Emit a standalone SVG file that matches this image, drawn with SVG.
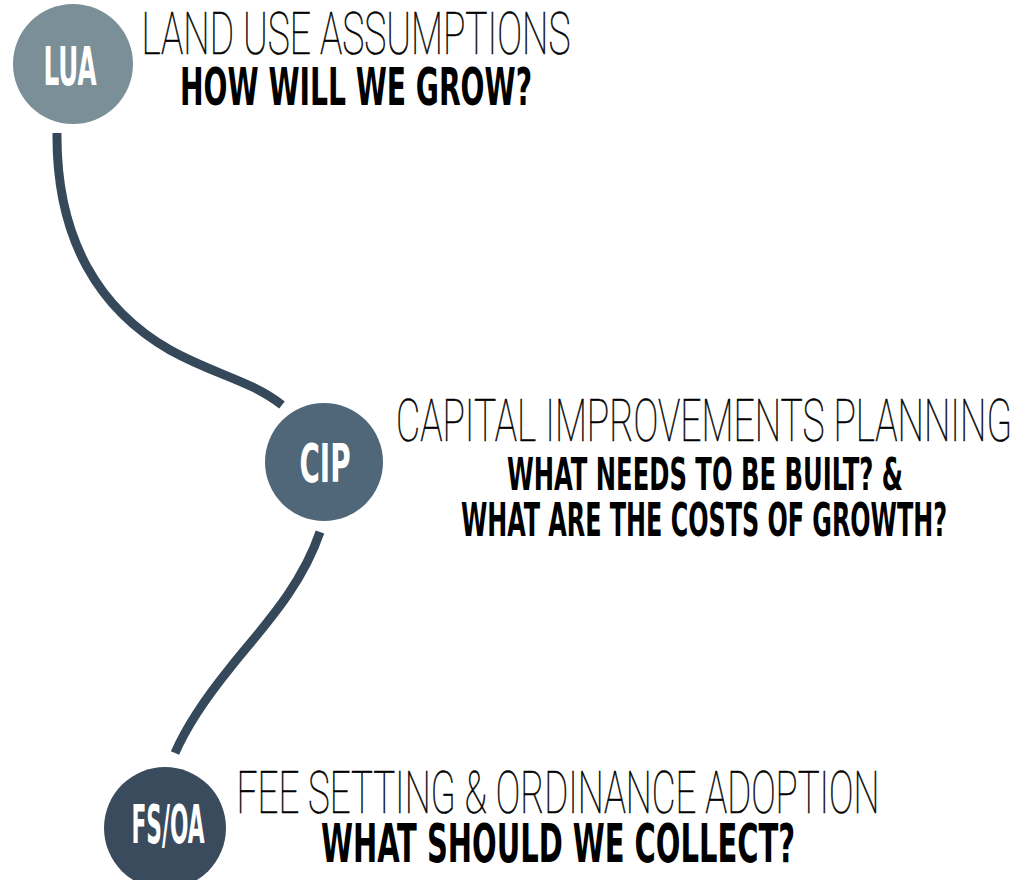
<svg xmlns="http://www.w3.org/2000/svg" width="1018" height="880" viewBox="0 0 1018 880">
<style>
.conn{fill:none;stroke:#36495a;stroke-width:9;stroke-linecap:butt}
.lbl{font-family:"DejaVu Sans Condensed","DejaVu Sans",sans-serif;font-weight:bold;fill:#ffffff;text-anchor:middle}
.title{font-family:Roboto,Lato,"Open Sans",sans-serif;font-weight:100;fill:#000000;stroke:#000000;stroke-width:0.6;text-anchor:middle}
.sub{font-family:"DejaVu Sans Condensed","DejaVu Sans",sans-serif;font-weight:bold;fill:#000000;text-anchor:middle}
</style>
<rect width="1018" height="880" fill="#ffffff"/>
<g id="connectors">
<path class="conn" d="M57,133 C56,240 100,310 170,350 C215,375 250,380 282,405"/>
<path class="conn" d="M320,532 C300,590 260,630 230,668 C200,705 185,730 175,753"/>
</g>
<g id="lua">
<circle cx="73" cy="64" r="60" fill="#7a8f98"/>
<text class="lbl" x="70" y="85" font-size="54" textLength="53" lengthAdjust="spacingAndGlyphs">LUA</text>
<text class="title" x="356" y="54" font-size="59" textLength="429" lengthAdjust="spacingAndGlyphs">LAND USE ASSUMPTIONS</text>
<text class="sub" x="356" y="105" font-size="52" textLength="352" lengthAdjust="spacingAndGlyphs">HOW WILL WE GROW?</text>
</g>
<g id="cip">
<circle cx="324" cy="462" r="59" fill="#4f6779"/>
<text class="lbl" x="325" y="482" font-size="53" textLength="51" lengthAdjust="spacingAndGlyphs">CIP</text>
<text class="title" x="704" y="441" font-size="59" textLength="616" lengthAdjust="spacingAndGlyphs">CAPITAL IMPROVEMENTS PLANNING</text>
<text class="sub" x="705" y="490" font-size="45" textLength="396" lengthAdjust="spacingAndGlyphs">WHAT NEEDS TO BE BUILT? &amp;</text>
<text class="sub" x="704" y="536" font-size="46" textLength="486" lengthAdjust="spacingAndGlyphs">WHAT ARE THE COSTS OF GROWTH?</text>
</g>
<g id="fsoa">
<circle cx="165" cy="828" r="61" fill="#3a4b5d"/>
<text class="lbl" x="168" y="843" font-size="54" textLength="73" lengthAdjust="spacingAndGlyphs">FS/OA</text>
<text class="title" x="558" y="813" font-size="59" textLength="643" lengthAdjust="spacingAndGlyphs">FEE SETTING &amp; ORDINANCE ADOPTION</text>
<text class="sub" x="558" y="862" font-size="54" textLength="474" lengthAdjust="spacingAndGlyphs">WHAT SHOULD WE COLLECT?</text>
</g>
</svg>
